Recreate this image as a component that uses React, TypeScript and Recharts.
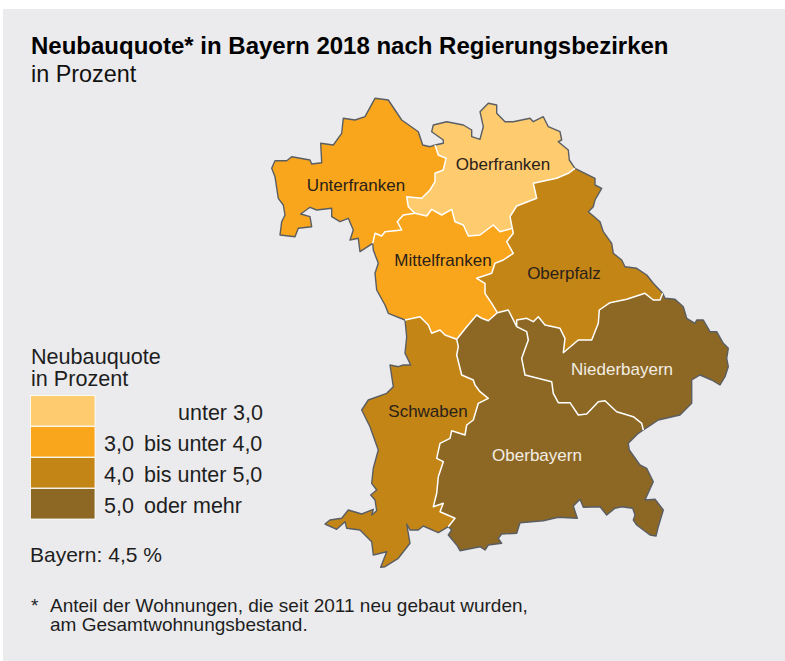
// Neubauquote map of Bavaria, drawn with hidden number axes
import { ScatterChart, Scatter, XAxis, YAxis, ReferenceDot } from "recharts";

type Pt = [number, number];

// shared borders, in map units (outer borders)
const L_A: Pt[] = [[372.7,243.3],[360,251.7],[358.3,238.3],[350,240],[353.3,230],[348.3,218.3],[340,221.7],[331.7,216.7],[331.7,208.3],[316.7,210],[310,207.3],[300.7,214],[310,216.7],[311.7,226.7],[298.3,228.3],[295,236.7],[280,235],[281.7,221.7],[285,215],[283.3,205],[278.3,198.3],[275,176.7],[271.7,168.3],[275,160.7],[286.7,160.7],[291.7,156.7],[310,160],[311.7,164],[321.7,162.7],[320.7,143.3],[333.3,145],[341.7,133.3],[343.3,118.3],[355,120],[365,116.7],[375,98.3],[388.3,100],[401.7,120],[418.3,131.7],[422.7,145],[430,146.7],[435,145]];
const A_D: Pt[] = [[435,145],[443.3,143.3],[443.3,140],[431.7,131.7],[433.3,125],[446.7,121.7],[463.3,125],[471.7,130],[471.7,136.7],[480,139.3],[483.3,126.7],[480,111.7],[488.3,103.3],[496.7,105],[496.7,113.3],[505,121.7],[513.3,121.7],[530,118.3],[533.3,121.7],[543.3,116.7],[548.3,126.7],[560,131.7],[561.7,140],[558.3,141.7],[568.3,150],[569.3,160],[575,168.3]];
const D_J: Pt[] = [[575,168.3],[595,178.3],[595,185],[601.7,188.3],[595,200],[593.3,206.7],[588.3,211.7],[600,221.7],[603.3,231.7],[611.7,243.3],[613.3,253.3],[621.7,260],[625,266.7],[636.7,268.3],[646.7,275],[653.3,283.3],[662.7,293.3]];
const J_K: Pt[] = [[662.7,293.3],[665,298.3],[675,299.3],[683.3,306.7],[686.7,318.3],[695,323.3],[696.7,320],[703.3,320],[710,331.7],[716.7,331.7],[723.3,343.3],[728.3,348.3],[726.7,358.3],[728.3,366.7],[725,376.7],[720,385],[711.7,380],[700,375],[691.7,380],[691.7,403.3],[680,415],[658.3,420],[648.3,426.7],[643.3,430]];
const K_H: Pt[] = [[643.3,430],[638.3,433.3],[628.3,443.3],[629.3,450],[640,465],[646.7,468.3],[653.3,481.7],[645,500],[655,499.3],[663.3,510],[658.3,526.7],[656,536],[650,535],[636.7,525],[633.3,520],[635,515],[632.7,508.3],[621.7,506.7],[615,508.3],[606.7,515],[600,506.7],[583.3,507.3],[580,499.3],[573.3,506],[577.3,518.3],[558.3,517.3],[543.3,520.7],[520,522.7],[516.7,533.3],[501.7,534],[498.3,538.3],[501.7,543.3],[488.3,545],[485,550],[480,546.7],[460,550.7],[456.7,545],[448.3,535],[451.7,530],[448.3,526.7]];
const H_G: Pt[] = [[448.3,526.7],[438.3,532.7],[423.3,526],[418.3,530],[410,530],[406.7,524],[410,543.3],[398.3,558.3],[385,566.7],[380.7,567.3],[386.7,551.7],[373.3,555],[371.7,541.7],[360,530],[346.7,528.3],[345,521.7],[336.7,529.3],[325,524],[330,520],[341.7,518.3],[348.3,510],[361.7,514],[373.3,509.3],[371.7,515],[376.7,510.7],[375,500],[370.7,495],[376.7,490],[371.7,483.3],[373.3,468.3],[378.3,450],[370,426.7],[361.7,410],[368.3,400],[386.7,393.3],[393.3,386.7],[390,365],[398.3,366.7],[403.3,365],[410.7,365],[405,353.3],[406.7,336.7],[405,320]];
const G_L: Pt[] = [[405,320],[388.3,313.3],[385,305],[376.7,290],[375,273.3],[378.3,263.3],[373.3,250],[372.7,243.3]];

// shared borders, inner ones
const A_B: Pt[] = [[435,145],[438.3,155],[446,158.3],[443.3,170],[435,173.3],[435,181.7],[430,190],[421.7,198.3],[406.7,196.7],[408.3,206.7],[415,213.3]];
const B_L: Pt[] = [[415,213.3],[403.3,215],[397.3,221.7],[401.7,230],[385,231.7],[381.7,236],[375,233.3],[372.7,243.3]];
const B_C: Pt[] = [[415,213.3],[426.7,216],[431.7,209.3],[441.7,215],[451.7,209.3],[455,221.7],[463.3,225],[468.3,236],[480,235],[493.3,225],[500,231.7],[512.3,228.3]];
const C_D: Pt[] = [[512.3,228.3],[510,216.7],[516.7,206],[536.7,198.3],[533.3,183.3],[556.7,178.3],[568.3,173.3],[575,168.3]];
const C_E: Pt[] = [[512.3,228.3],[513.3,233.3],[506.7,241.7],[513.3,253.3],[503.3,260],[495,263.3],[491.7,273.3],[476.7,278.3],[485,283.3],[485,293.3],[491.7,303.3],[497.3,312.7]];
const E_F: Pt[] = [[497.3,312.7],[488.3,320.7],[481.7,318.3],[476.7,315],[466.7,326.7],[456.7,339.3]];
const F_G: Pt[] = [[456.7,339.3],[445,335],[440,330],[431.7,333.3],[428.3,325],[420,316.7],[405,320]];
const F_H: Pt[] = [[456.7,339.3],[458.3,346.7],[456.7,355],[461.7,375],[473.3,380],[475,385],[480,391.7],[488.3,398.3],[478.3,403.3],[473.3,420],[466.7,425],[465,435],[451.7,430.7],[450,438.3],[440,443.3],[436.7,458.3],[443.3,461.7],[438.3,476.7],[436.7,493.3],[433.3,506.7],[443.3,503.3],[440,511.7],[455,518.3],[448.3,526.7]];
const E_I: Pt[] = [[497.3,312.7],[508.3,310],[516.7,326.7]];
const I_J: Pt[] = [[516.7,326.7],[516.7,320],[526.7,318.3],[533.3,321.7],[538.3,316.7],[545,325],[560,328.3],[565,338.3],[563.3,352.7],[578.3,340],[591.7,340],[598.3,323.3],[599.3,310],[610,302.7],[626.7,299.3],[645,293.3],[653.3,300],[660,300],[662.7,293.3]];
const I_K: Pt[] = [[516.7,326.7],[526.7,331.7],[528.3,340],[521.7,358.3],[525,375],[551.7,381.7],[553.3,393.3],[558.3,402.7],[570,402.7],[578.3,415],[586.7,414],[598.3,401.7],[605,400.7],[616.7,411.7],[633.3,416.7],[641.7,423.3],[643.3,430]];

const rev = (a: Pt[]) => [...a].reverse();
const toRows = (arcs: Pt[][]) => arcs.flat().map(([x, y]) => ({ x, y }));
const noDot = () => null;

const COLORS = ["#FFCB6F", "#FAA61C", "#C38516", "#8D6824"];
const legendFrom = ["", "3,0", "4,0", "5,0"];
const legendRest = ["unter 3,0", "bis unter 4,0", "bis unter 5,0", "oder mehr"];

const regions = [
  { name: "Unterfranken", cls: 1, arcs: [L_A, A_B, B_L], at: [356, 185] },
  { name: "Oberfranken", cls: 0, arcs: [A_D, rev(C_D), rev(B_C), rev(A_B)], at: [503, 164] },
  { name: "Mittelfranken", cls: 1, arcs: [rev(B_L), B_C, C_E, E_F, F_G, G_L], at: [443, 260] },
  { name: "Oberpfalz", cls: 2, arcs: [C_D, D_J, rev(I_J), rev(E_I), rev(C_E)], at: [564, 273] },
  { name: "Niederbayern", cls: 3, arcs: [I_J, J_K, rev(I_K)], at: [622, 369] },
  { name: "Oberbayern", cls: 3, arcs: [E_I, I_K, K_H, rev(F_H), rev(E_F)], at: [537, 455] },
  { name: "Schwaben", cls: 2, arcs: [rev(F_G), F_H, H_G], at: [428, 411] },
];
const outerArcs = [L_A, A_D, D_J, J_K, K_H, H_G, G_L];
const innerArcs = [A_B, B_L, B_C, C_D, C_E, E_F, F_G, F_H, E_I, I_J, I_K];

const FONT = "'Liberation Sans', Arial, sans-serif";

export default function App() {
  return (
    <div style={{ position: "absolute", left: 0, top: 0, width: 785, height: 661, background: "#fff", overflow: "hidden", fontFamily: FONT }}>
      <div style={{ position: "absolute", left: 3, top: 9, width: 782, height: 652, background: "#EBEBED" }} />
      <div style={{ position: "absolute", left: 0, top: 0 }}>
        <ScatterChart width={785} height={661} margin={{ top: 0, right: 0, bottom: 0, left: 0 }}>
          <XAxis type="number" dataKey="x" domain={[0, 785]} hide />
          <YAxis type="number" dataKey="y" domain={[0, 661]} reversed hide />
          {regions.map((r) => (
            <Scatter
              key={r.name}
              data={toRows(r.arcs)}
              line={{ fill: COLORS[r.cls], stroke: "none" }}
              shape={noDot}
              isAnimationActive={false}
            />
          ))}
          {outerArcs.map((a, i) => (
            <Scatter key={`o${i}`} data={toRows([a])} line={{ fill: "none", stroke: "#5A5E63", strokeWidth: 1.4, strokeLinejoin: "round" }} shape={noDot} isAnimationActive={false} />
          ))}
          {innerArcs.map((a, i) => (
            <Scatter key={`w${i}`} data={toRows([a])} line={{ fill: "none", stroke: "#fff", strokeWidth: 1.5, strokeLinejoin: "round" }} shape={noDot} isAnimationActive={false} />
          ))}
          {regions.map((r) => (
            <ReferenceDot
              key={r.name}
              x={r.at[0]}
              y={r.at[1]}
              r={0}
              stroke="none"
              label={{ value: r.name, position: "center", fontSize: 17, fontFamily: FONT, fill: r.cls === 3 ? "#F3EEE4" : "#2A2119" }}
            />
          ))}
        </ScatterChart>
      </div>
      <svg width={785} height={661} style={{ position: "absolute", left: 0, top: 0 }} fontFamily={FONT} fill="#1E1E1E">
        <text x={31} y={54} fontSize={24} fontWeight="bold" fill="#000">Neubauquote* in Bayern 2018 nach Regierungsbezirken</text>
        <text x={31} y={82} fontSize={23.4} fill="#111">in Prozent</text>
        <text x={31} y={363.5} fontSize={21.6}>Neubauquote</text>
        <text x={31} y={386} fontSize={21.6}>in Prozent</text>
        {COLORS.map((c, i) => (
          <rect key={c} x={30.5} y={395.5 + i * 31} width={64.5} height={30.5} fill={c} stroke="#fff" strokeWidth={0.8} />
        ))}
        {legendFrom.map((l, i) => (
          <text key={`f${i}`} x={104} y={419.5 + i * 31} fontSize={21.5}>{l}</text>
        ))}
        {legendRest.map((l, i) => (
          <text key={l} x={i === 0 ? 178 : 144} y={419.5 + i * 31} fontSize={21.5}>{l}</text>
        ))}
        <text x={30} y={562} fontSize={21}>Bayern: 4,5 %</text>
        <text x={31} y={612} fontSize={19}>*</text>
        <text x={50} y={612} fontSize={19}>Anteil der Wohnungen, die seit 2011 neu gebaut wurden,</text>
        <text x={50} y={630.5} fontSize={19}>am Gesamtwohnungsbestand.</text>
      </svg>
    </div>
  );
}
